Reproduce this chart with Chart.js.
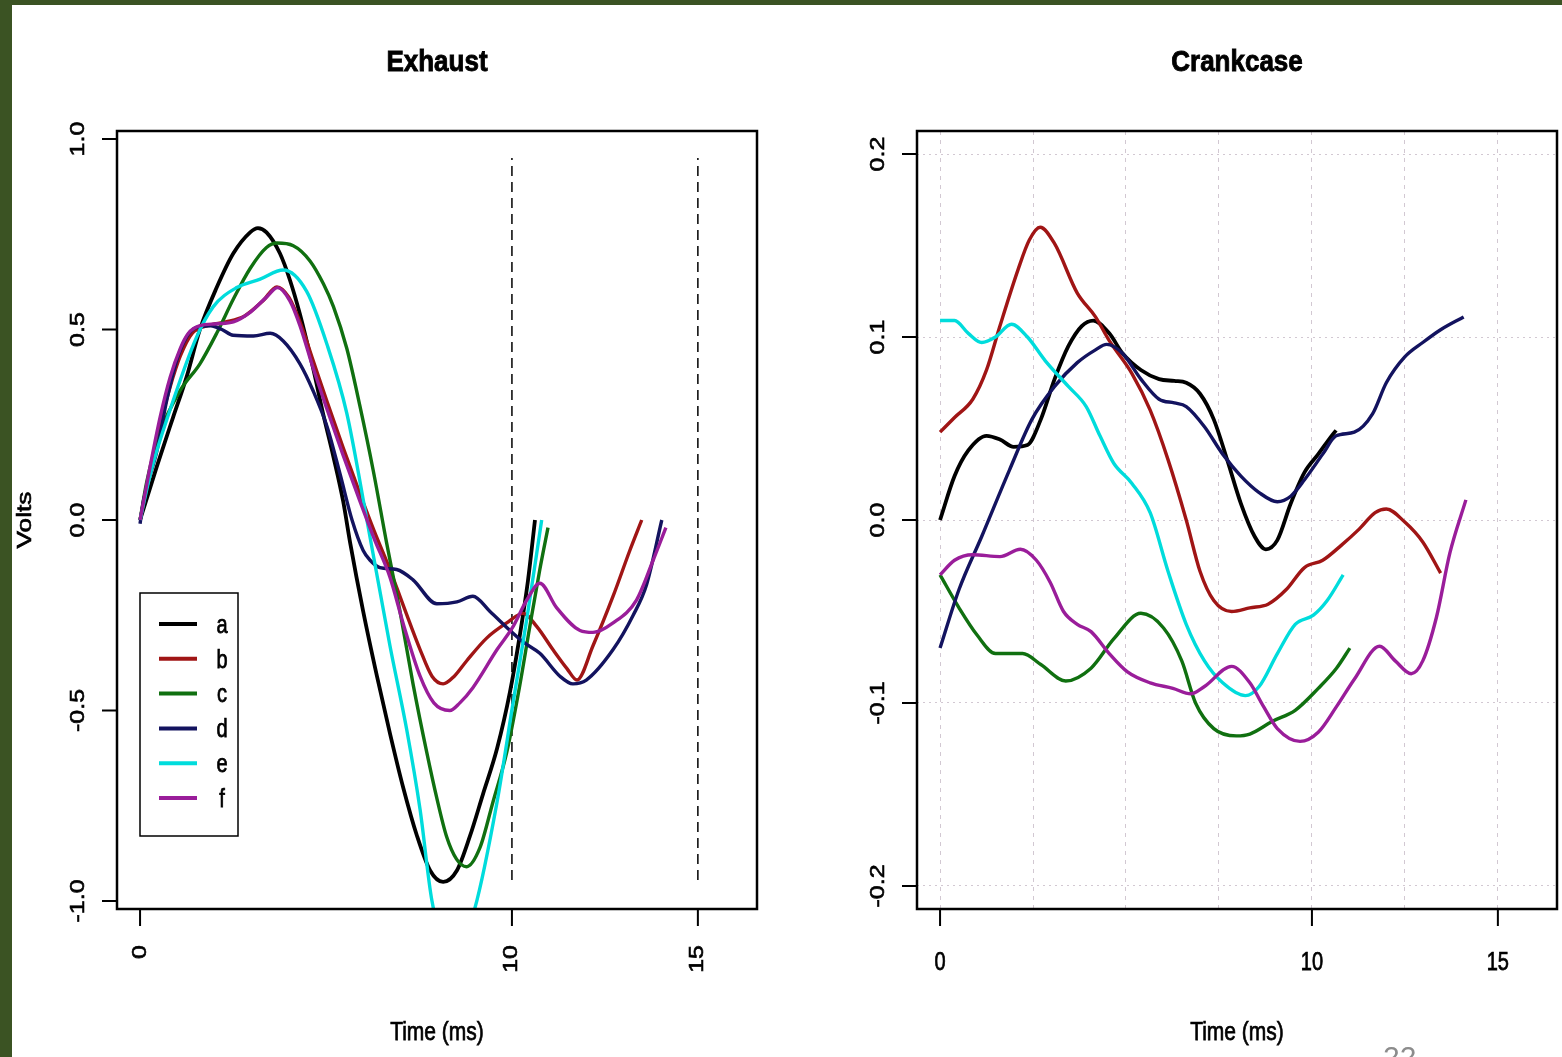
<!DOCTYPE html>
<html>
<head>
<meta charset="utf-8">
<title>Exhaust / Crankcase</title>
<script src="https://cdn.jsdelivr.net/npm/chart.js@4.4.1/dist/chart.umd.min.js"></script>
<style>
  html, body { margin: 0; padding: 0; background: #fff; }
  body { position: relative; width: 1562px; height: 1057px; overflow: hidden; }
  canvas { position: absolute; top: 0; }
  #exhaust { left: 0; }
  #crankcase { left: 800px; }
  .frame { position: absolute; background: #3b5323; z-index: 2; }
  .frame.left { left: 0; top: 0; width: 12px; height: 1057px; }
  .frame.top { left: 0; top: 0; width: 1562px; height: 5px; }
  .page-number { position: absolute; left: 1383px; top: 1040px; font: 30px 'Liberation Sans', Arial, sans-serif; color: #8c8c8c; }
</style>
</head>
<body>
<canvas id="exhaust" width="800" height="1057"></canvas>
<canvas id="crankcase" width="762" height="1057"></canvas>
<div class="frame left"></div>
<div class="frame top"></div>
<div class="page-number">22</div>
<script>
const seriesNames = ['a', 'b', 'c', 'd', 'e', 'f'];
const seriesColors = ['#000000', '#a01515', '#107010', '#13135f', '#00dcdc', '#9a1d9a'];

// Exhaust traces, [time (ms), volts]
const exhaustA = [[0,0],[0.45,0.14],[0.89,0.27],[1.25,0.375],[1.61,0.5],[2.06,0.61],[2.51,0.7],[2.96,0.755],[3.17,0.766],[3.4,0.755],[3.76,0.7],[4.03,0.63],[4.3,0.54],[4.65,0.4],[4.92,0.28],[5.19,0.17],[5.46,0.05],[5.65,-0.06],[6.0,-0.24],[6.37,-0.41],[6.72,-0.56],[7.07,-0.7],[7.45,-0.83],[7.8,-0.92],[8.15,-0.95],[8.52,-0.92],[8.87,-0.83],[9.22,-0.72],[9.6,-0.6],[9.95,-0.45],[10.2,-0.31],[10.43,-0.16],[10.62,0]];
const exhaustB = [[0,0],[0.27,0.13],[0.54,0.25],[0.81,0.35],[1.08,0.43],[1.4,0.49],[1.8,0.51],[2.3,0.52],[2.8,0.535],[3.3,0.575],[3.68,0.612],[4.0,0.585],[4.3,0.52],[4.65,0.42],[5.03,0.31],[5.46,0.19],[5.91,0.07],[6.3,-0.03],[6.72,-0.13],[7.1,-0.23],[7.53,-0.34],[7.85,-0.41],[8.15,-0.43],[8.45,-0.41],[8.78,-0.37],[9.32,-0.31],[9.86,-0.27],[10.3,-0.245],[10.67,-0.28],[11.1,-0.34],[11.48,-0.39],[11.75,-0.42],[12.18,-0.33],[12.72,-0.2],[13.17,-0.08],[13.49,0]];
const exhaustC = [[0,0],[0.18,0.1],[0.54,0.23],[1.08,0.34],[1.61,0.41],[2.06,0.49],[2.51,0.58],[2.96,0.66],[3.4,0.715],[3.68,0.727],[4.12,0.72],[4.57,0.68],[4.93,0.62],[5.2,0.56],[5.56,0.45],[5.91,0.3],[6.27,0.13],[6.63,-0.06],[6.99,-0.24],[7.34,-0.43],[7.71,-0.61],[7.98,-0.73],[8.24,-0.83],[8.51,-0.89],[8.78,-0.91],[9.14,-0.86],[9.49,-0.74],[9.86,-0.61],[10.2,-0.44],[10.48,-0.28],[10.75,-0.13],[10.97,-0.02]];
const exhaustD = [[0,-0.01],[0.09,0.05],[0.45,0.18],[0.72,0.315],[0.99,0.42],[1.25,0.48],[1.5,0.505],[1.9,0.51],[2.2,0.5],[2.5,0.485],[3.05,0.483],[3.5,0.49],[3.85,0.47],[4.3,0.41],[4.65,0.34],[5.03,0.245],[5.38,0.12],[5.7,0.0],[6.0,-0.08],[6.18,-0.105],[6.45,-0.125],[6.9,-0.13],[7.34,-0.157],[7.98,-0.22],[8.52,-0.215],[8.95,-0.2],[9.41,-0.24],[9.95,-0.29],[10.3,-0.32],[10.75,-0.35],[11.29,-0.41],[11.64,-0.43],[12.0,-0.42],[12.72,-0.34],[13.26,-0.25],[13.62,-0.17],[14.03,0]];
const exhaustE = [[0,0],[0.3,0.13],[0.81,0.29],[1.52,0.48],[1.97,0.56],[2.6,0.61],[3.23,0.632],[3.85,0.656],[4.48,0.6],[5.03,0.46],[5.56,0.28],[6.1,0.0],[6.72,-0.33],[7.17,-0.55],[7.53,-0.76],[7.85,-1.0],[8.4,-1.16],[9.0,-1.02],[9.6,-0.74],[10.03,-0.48],[10.4,-0.26],[10.8,0]];
const exhaustF = [[0,0],[0.27,0.14],[0.54,0.27],[0.81,0.375],[1.08,0.45],[1.3,0.49],[1.61,0.51],[2.06,0.515],[2.51,0.52],[2.96,0.545],[3.4,0.585],[3.7,0.61],[4.03,0.575],[4.3,0.51],[4.65,0.4],[5.03,0.29],[5.46,0.17],[5.91,0.05],[6.3,-0.05],[6.72,-0.15],[7.1,-0.28],[7.53,-0.41],[7.9,-0.48],[8.33,-0.5],[8.6,-0.48],[8.95,-0.44],[9.6,-0.34],[10.03,-0.28],[10.4,-0.21],[10.75,-0.166],[11.2,-0.23],[11.83,-0.29],[12.18,-0.295],[12.72,-0.27],[13.35,-0.21],[13.8,-0.105],[14.14,-0.02]];

// Crankcase traces, [time (ms), volts]
const crankA = [[0,0],[0.39,0.024],[0.76,0.038],[1.25,0.046],[1.61,0.044],[1.98,0.04],[2.35,0.041],[2.71,0.055],[3.08,0.077],[3.45,0.095],[3.81,0.106],[4.12,0.109],[4.55,0.102],[4.91,0.091],[5.4,0.082],[5.89,0.077],[6.3,0.076],[6.62,0.075],[6.99,0.069],[7.36,0.055],[7.72,0.033],[8.09,0.009],[8.46,-0.009],[8.76,-0.016],[9.07,-0.011],[9.43,0.009],[9.8,0.026],[10.17,0.036],[10.53,0.046],[10.65,0.049]];
const crankB = [[0,0.048],[0.39,0.056],[0.88,0.066],[1.25,0.082],[1.61,0.106],[2.1,0.137],[2.4,0.153],[2.69,0.16],[3.08,0.151],[3.69,0.124],[4.18,0.111],[4.55,0.098],[5.16,0.08],[5.65,0.06],[6.13,0.033],[6.62,0.0],[6.99,-0.028],[7.36,-0.044],[7.84,-0.05],[8.33,-0.048],[8.82,-0.046],[9.31,-0.038],[9.8,-0.026],[10.29,-0.022],[10.78,-0.014],[11.27,-0.005],[11.7,0.004],[12.0,0.006],[12.49,-0.001],[12.98,-0.012],[13.46,-0.029]];
const crankC = [[0,-0.03],[0.51,-0.048],[1.0,-0.063],[1.49,-0.073],[2.22,-0.073],[2.71,-0.079],[3.38,-0.088],[4.06,-0.081],[4.67,-0.065],[5.4,-0.051],[6.01,-0.059],[6.5,-0.077],[6.87,-0.1],[7.36,-0.114],[7.97,-0.118],[8.33,-0.117],[8.94,-0.11],[9.55,-0.104],[10.17,-0.092],[10.66,-0.081],[11.02,-0.07]];
const crankD = [[0,-0.07],[0.51,-0.038],[1.12,-0.009],[1.86,0.027],[2.47,0.055],[3.08,0.073],[3.69,0.086],[4.18,0.093],[4.48,0.096],[4.91,0.091],[5.4,0.077],[5.89,0.066],[6.3,0.064],[6.62,0.062],[7.11,0.051],[7.6,0.036],[8.09,0.024],[8.58,0.015],[9.07,0.01],[9.43,0.013],[9.8,0.022],[10.29,0.036],[10.65,0.046],[11.14,0.048],[11.63,0.058],[12.0,0.075],[12.49,0.089],[12.98,0.097],[13.46,0.104],[14.08,0.111]];
const crankE = [[0,0.109],[0.39,0.109],[0.76,0.102],[1.12,0.097],[1.49,0.1],[1.92,0.107],[2.35,0.1],[2.83,0.087],[3.45,0.073],[3.93,0.062],[4.3,0.046],[4.67,0.031],[5.16,0.02],[5.65,0.004],[6.13,-0.028],[6.62,-0.057],[7.11,-0.077],[7.6,-0.089],[8.21,-0.096],[8.58,-0.091],[9.07,-0.073],[9.55,-0.057],[10.04,-0.052],[10.41,-0.044],[10.84,-0.03]];
const crankF = [[0,-0.03],[0.39,-0.022],[0.88,-0.019],[1.61,-0.02],[2.16,-0.016],[2.59,-0.022],[2.96,-0.034],[3.32,-0.05],[3.69,-0.057],[4.06,-0.061],[4.55,-0.073],[5.04,-0.083],[5.65,-0.089],[6.26,-0.092],[6.74,-0.095],[7.11,-0.091],[7.84,-0.08],[8.33,-0.089],[8.7,-0.102],[9.07,-0.114],[9.68,-0.121],[10.17,-0.116],[10.66,-0.102],[11.14,-0.087],[11.82,-0.069],[12.24,-0.077],[12.67,-0.084],[12.98,-0.077],[13.35,-0.053],[13.71,-0.018],[14.14,0.011]];

const exhaustXTicks = [0, 10, 15];
const exhaustYTicks = [-1, -0.5, 0, 0.5, 1];
const exhaustYLabels = ['-1.0', '-0.5', '0.0', '0.5', '1.0'];
const crankXTicks = [0, 10, 15];
const crankYTicks = [-0.2, -0.1, 0, 0.1, 0.2];
const crankYLabels = ['-0.2', '-0.1', '0.0', '0.1', '0.2'];
const crankGridX = [0, 2.5, 5, 7.5, 10, 12.5, 15];
const markerTimes = [10, 15];   // dashed reference lines on the exhaust panel
const markerSpan = [-0.945, 0.95];

const FONT = "'Liberation Sans', Arial, sans-serif";

// the original graphic is stretched vertically, so text is drawn taller than wide
function drawText(ctx, text, x, y, size, opts = {}) {
  ctx.save();
  ctx.translate(x, y);
  ctx.scale(1, opts.stretch || 1.25);
  if (opts.rotate) ctx.rotate(opts.rotate);
  ctx.font = (opts.bold ? 'bold ' : '') + size + 'px ' + FONT;
  ctx.textAlign = opts.align || 'center';
  ctx.textBaseline = 'middle';
  ctx.fillStyle = '#000';
  ctx.strokeStyle = '#000';
  ctx.lineWidth = opts.bold ? 0.8 : 0.6;   // heavier strokes, like the blurred original
  ctx.fillText(text, 0, 0);
  ctx.strokeText(text, 0, 0);
  ctx.restore();
}

function drawLegend(ctx, a) {
  const left = a.left + 23, top = a.top + 462;
  ctx.save();
  ctx.strokeStyle = '#000';
  ctx.lineWidth = 1.5;
  ctx.strokeRect(left, top, 98, 243);
  seriesNames.forEach((name, i) => {
    const ry = top + 31 + i * 34.8;
    ctx.strokeStyle = seriesColors[i];
    ctx.lineWidth = 4;
    ctx.beginPath();
    ctx.moveTo(left + 19, ry);
    ctx.lineTo(left + 57, ry);
    ctx.stroke();
    drawText(ctx, name, left + 82, ry + 2, 20);
  });
  ctx.restore();
}

// R-style box, tick marks and labels
const rAxes = {
  id: 'rAxes',
  afterDatasetsDraw(chart, args, o) {
    const { ctx, chartArea: a, scales: { x, y } } = chart;
    const midX = (a.left + a.right) / 2;
    ctx.save();
    ctx.strokeStyle = '#000';
    ctx.lineWidth = 2.5;
    ctx.strokeRect(a.left, a.top, a.right - a.left, a.bottom - a.top);
    ctx.lineWidth = 2;
    ctx.beginPath();
    o.xTicks.forEach(v => {
      const px = x.getPixelForValue(v);
      ctx.moveTo(px, a.bottom);
      ctx.lineTo(px, a.bottom + 17);
    });
    o.yTicks.forEach(v => {
      const py = y.getPixelForValue(v);
      ctx.moveTo(a.left, py);
      ctx.lineTo(a.left - 15, py);
    });
    ctx.stroke();
    ctx.restore();

    o.xTicks.forEach(v => {
      const px = x.getPixelForValue(v);
      if (o.rotateX) drawText(ctx, String(v), px, a.bottom + 36, 20, { rotate: -Math.PI / 2, align: 'right' });
      else drawText(ctx, String(v), px, a.bottom + 54, 20);
    });
    o.yTicks.forEach((v, i) => {
      drawText(ctx, o.yLabels[i], a.left - 39, y.getPixelForValue(v), 20, { rotate: -Math.PI / 2 });
    });
    drawText(ctx, o.title, midX, a.top - 68, 26, { bold: true, stretch: 1.1 });
    drawText(ctx, 'Time (ms)', midX, a.bottom + 124, 21);
    if (o.yTitle) drawText(ctx, o.yTitle, 25, (a.top + a.bottom) / 2, 21, { rotate: -Math.PI / 2 });
    if (o.legend) drawLegend(ctx, a);
  }
};

function traceSets(traces) {
  return traces.map((pts, i) => ({
    label: seriesNames[i],
    data: pts.map(([t, v]) => ({ x: t, y: v })),
    borderColor: seriesColors[i],
    borderWidth: i === 0 ? 3.8 : 3.4,
    pointRadius: 0,
    cubicInterpolationMode: 'monotone',
    order: traces.length - i
  }));
}

const markerSets = markerTimes.map(t => ({
  label: 't=' + t,
  data: markerSpan.map(v => ({ x: t, y: v })),
  borderColor: '#000',
  borderWidth: 1.5,
  borderDash: [10, 6],
  pointRadius: 0,
  order: 10
}));

new Chart(document.getElementById('exhaust'), {
  type: 'line',
  data: { datasets: [...traceSets([exhaustA, exhaustB, exhaustC, exhaustD, exhaustE, exhaustF]), ...markerSets] },
  options: {
    responsive: false,
    animation: false,
    events: [],
    layout: { padding: { left: 117, right: 43, top: 131, bottom: 148 } },
    scales: {
      x: { type: 'linear', display: false, min: -0.62, max: 16.59 },
      y: { type: 'linear', display: false, min: -1.021, max: 1.021 }
    },
    plugins: {
      legend: { display: false },
      tooltip: { enabled: false },
      rAxes: {
        title: 'Exhaust', yTitle: 'Volts', legend: true, rotateX: true,
        xTicks: exhaustXTicks, yTicks: exhaustYTicks, yLabels: exhaustYLabels
      }
    }
  },
  plugins: [rAxes]
});

const gridStyle = { color: '#d2c8d2', lineWidth: 1, drawTicks: false };

new Chart(document.getElementById('crankcase'), {
  type: 'line',
  data: { datasets: traceSets([crankA, crankB, crankC, crankD, crankE, crankF]) },
  options: {
    responsive: false,
    animation: false,
    events: [],
    layout: { padding: { left: 117, right: 5, top: 131, bottom: 148 } },
    scales: {
      x: {
        type: 'linear', min: -0.62, max: 16.59,
        ticks: { display: false },
        grid: gridStyle,
        border: { display: false, dash: [4, 5] },
        afterBuildTicks: s => { s.ticks = crankGridX.map(v => ({ value: v })); }
      },
      y: {
        type: 'linear', min: -0.2126, max: 0.2126,
        ticks: { display: false },
        grid: gridStyle,
        border: { display: false, dash: [2, 4] },
        afterBuildTicks: s => { s.ticks = crankYTicks.map(v => ({ value: v })); }
      }
    },
    plugins: {
      legend: { display: false },
      tooltip: { enabled: false },
      rAxes: {
        title: 'Crankcase', rotateX: false,
        xTicks: crankXTicks, yTicks: crankYTicks, yLabels: crankYLabels
      }
    }
  },
  plugins: [rAxes]
});
</script>
</body>
</html>
